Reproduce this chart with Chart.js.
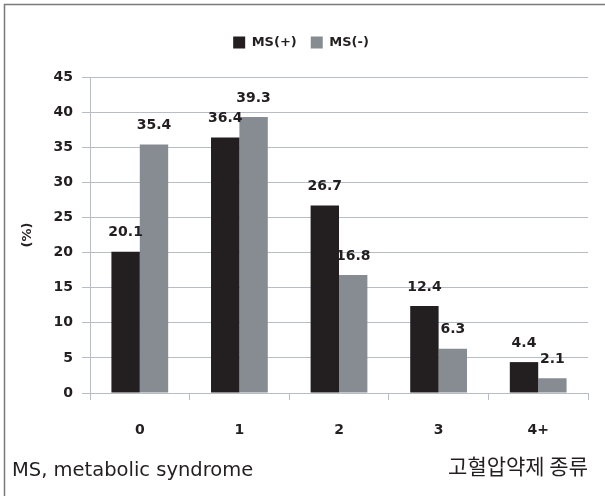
<!DOCTYPE html>
<html>
<head>
<meta charset="utf-8">
<script src="https://cdn.jsdelivr.net/npm/chart.js@4"></script>
<style>
  html, body { margin: 0; padding: 0; background: white; }
  canvas { display: block; }
</style>
</head>
<body>
<canvas id="chart" width="605" height="496"></canvas>
<script>
        var categories = ["0", "1", "2", "3", "4+"];
        var msPlus = [20.1, 36.4, 26.7, 12.4, 4.4];
        var msMinus = [35.4, 39.3, 16.8, 6.3, 2.1];
        var yTicks = [0, 5, 10, 15, 20, 25, 30, 35, 40, 45];

        var textColour = '#231f20';
        var gridColour = '#b8bcc4';

        // frame, value labels and the footnote
        var extras = {
            id: 'extras',
            afterInit: (chart) => {
                // leave more room under the legend
                const lg = chart.legend;
                if (lg) {
                    const fit = lg.fit.bind(lg);
                    lg.fit = function () {
                        fit();
                        this.height += 18;
                    };
                }
            },
            beforeDraw: (chart) => {
                const {ctx} = chart;
                ctx.save();
                ctx.strokeStyle = '#7a7a7a';
                ctx.lineWidth = 1.5;
                ctx.beginPath();
                ctx.moveTo(4.5, 700);
                ctx.lineTo(4.5, 4.5);
                ctx.lineTo(700, 4.5);
                ctx.stroke();
                ctx.restore();
            },
            afterDatasetsDraw: (chart) => {
                const {ctx} = chart;
                ctx.save();
                ctx.font = 'bold 14px "DejaVu Sans"';
                ctx.fillStyle = textColour;
                ctx.textAlign = 'center';
                ctx.textBaseline = 'middle';
                chart.data.datasets.forEach((ds, i) => {
                    chart.getDatasetMeta(i).data.forEach((bar, j) => {
                        ctx.fillText(ds.data[j].toFixed(1), bar.x, bar.y - 19);
                    });
                });
                ctx.font = '19.5px "DejaVu Sans"';
                ctx.textAlign = 'left';
                ctx.fillText('MS, metabolic syndrome', 12, 471);
                ctx.restore();
            }
        };

        new Chart(document.getElementById('chart'), {
            type: 'bar',
            data: {
                labels: categories,
                datasets: [{
                    label: 'MS(+)',
                    data: msPlus,
                    backgroundColor: '#231f20'
                }, {
                    label: 'MS(-)',
                    data: msMinus,
                    backgroundColor: '#878c93'
                }]
            },
            options: {
                responsive: false,
                animation: false,
                datasets: {
                    bar: {
                        categoryPercentage: 0.57,
                        barPercentage: 1.0
                    }
                },
                layout: {
                    padding: {left: 14, right: 17, top: 22, bottom: 14}
                },
                plugins: {
                    tooltip: {enabled: false},
                    legend: {
                        labels: {
                            color: textColour,
                            boxWidth: 12,
                            boxHeight: 12,
                            padding: 14,
                            font: {family: '"DejaVu Sans"', size: 13, weight: 'bold'}
                        }
                    }
                },
                scales: {
                    x: {
                        grid: {
                            color: gridColour,
                            drawOnChartArea: false,
                            tickLength: 7
                        },
                        border: {color: gridColour},
                        ticks: {
                            color: textColour,
                            padding: 22,
                            font: {family: '"DejaVu Sans"', size: 14, weight: 'bold'}
                        },
                        title: {
                            display: true,
                            align: 'end',
                            text: '고혈압약제 종류',
                            color: textColour,
                            padding: {top: 0, bottom: 3},
                            font: {family: '"Noto Sans CJK KR"', size: 21, weight: 'normal'}
                        },
                        afterFit: (scale) => { scale.height = 496 - 393 - 14; }
                    },
                    y: {
                        min: 0,
                        max: 45,
                        afterBuildTicks: (scale) => {
                            scale.ticks = yTicks.map(v => ({value: v}));
                        },
                        grid: {
                            color: gridColour,
                            tickLength: 8
                        },
                        border: {color: gridColour},
                        ticks: {
                            color: textColour,
                            padding: 9,
                            font: {family: '"DejaVu Sans"', size: 14, weight: 'bold'}
                        },
                        title: {
                            display: true,
                            text: '(%)',
                            color: textColour,
                            padding: {top: 6, bottom: 0},
                            font: {family: '"DejaVu Sans"', size: 13, weight: 'bold'}
                        },
                        afterFit: (scale) => { scale.width = 90 - 14; }
                    }
                }
            },
            plugins: [extras]
        });
</script>
</body>
</html>
